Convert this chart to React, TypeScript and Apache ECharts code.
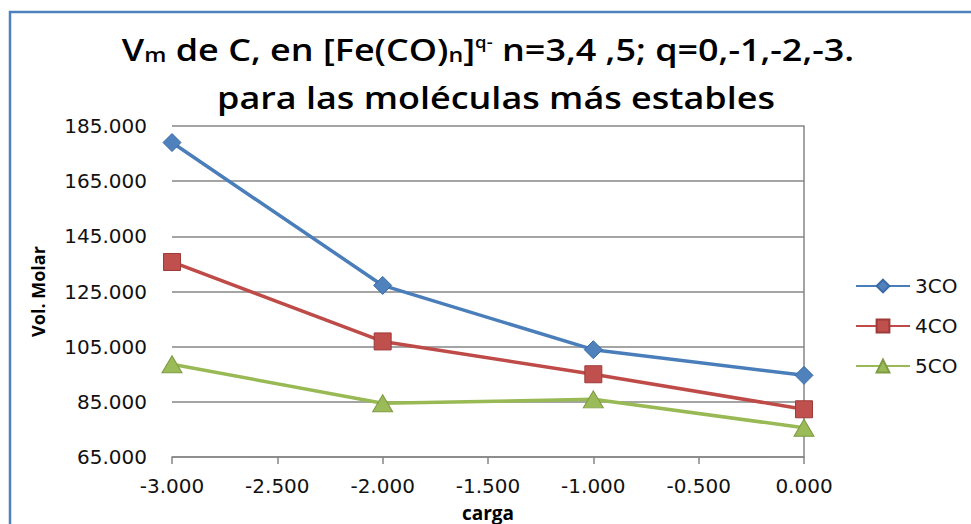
import React, { useEffect, useRef } from "react";
import * as echarts from "echarts";

const charges = [-3, -2, -1, 0];
const vm3CO = [179.0, 127.2, 103.9, 94.6];
const vm4CO = [135.7, 106.9, 95.0, 82.3];
const vm5CO = [98.6, 84.5, 85.9, 75.6];
const seriesNames = ["3CO", "4CO", "5CO"];
const yTicks = [65, 85, 105, 125, 145, 165, 185];

const pairs = (ys: number[]) => charges.map((x, i) => [x, ys[i]]);

export default function App() {
  const ref = useRef<HTMLDivElement>(null);

  useEffect(() => {
    if (!ref.current) return;
    const chart = echarts.init(ref.current, null, { renderer: "svg" });
    const labelFont = "DejaVu Sans";
    const titleFont = "Open Sans";
    const titleRich = {
      b: {
        fontFamily: titleFont,
        fontWeight: 600,
        fontSize: 31,
        color: "#000",
        lineHeight: 48,
      },
      sub: {
        fontFamily: titleFont,
        fontWeight: 600,
        fontSize: 20,
        color: "#000",
        verticalAlign: "bottom",
        padding: [0, 0, 9, 0],
      },
      sup: {
        fontFamily: titleFont,
        fontWeight: 600,
        fontSize: 16,
        color: "#000",
        verticalAlign: "top",
        padding: [9, 0, 0, 0],
      },
    };
    chart.setOption({
      animation: false,
      backgroundColor: "#ffffff",
      graphic: [
        {
          type: "rect",
          shape: { x: 10, y: 12, width: 1000, height: 600 },
          style: { fill: "none", stroke: "#4F81BD", lineWidth: 2.5 },
          silent: true,
        },
        {
          type: "text",
          x: 488,
          y: 25,
          scaleX: 1.16,
          silent: true,
          style: {
            text:
              "{b|V}{sub|m}{b| de C, en [Fe(CO)}{sub|n}{b|]}{sup|q-}{b| n=3,4 ,5; q=0,-1,-2,-3.}",
            align: "center",
            verticalAlign: "top",
            rich: titleRich,
          },
        },
        {
          type: "text",
          x: 496,
          y: 73,
          scaleX: 1.16,
          silent: true,
          style: {
            text: "{b|para las moléculas más estables}",
            align: "center",
            verticalAlign: "top",
            rich: titleRich,
          },
        },
      ],
      legend: {
        orient: "vertical",
        left: 850,
        top: 271,
        itemWidth: 54,
        itemHeight: 16,
        itemGap: 20,
        data: seriesNames,
        textStyle: { fontFamily: labelFont, fontSize: 20, color: "#111" },
      },
      grid: {
        left: 172,
        right: 167,
        top: 126,
        bottom: 67,
        outerBoundsMode: "none",
      },
      xAxis: {
        type: "value",
        min: -3,
        max: 0,
        interval: 0.5,
        name: "carga",
        nameLocation: "middle",
        nameGap: 46,
        nameTextStyle: {
          fontFamily: titleFont,
          fontWeight: "bold",
          fontSize: 19,
          color: "#000",
        },
        axisLine: { show: true, lineStyle: { color: "#868686", width: 1.5 } },
        axisTick: {
          show: true,
          inside: false,
          length: 7,
          lineStyle: { color: "#868686", width: 1.5 },
        },
        splitLine: { show: false },
        axisLabel: {
          fontFamily: labelFont,
          fontSize: 20,
          color: "#111",
          margin: 19,
          formatter: (v: number) => v.toFixed(3),
        },
      },
      yAxis: [
        {
          type: "value",
          min: 65,
          max: 185,
          name: "Vol. Molar",
          nameLocation: "middle",
          nameRotate: 90,
          nameGap: 125,
          nameTextStyle: {
            fontFamily: titleFont,
            fontWeight: "bold",
            fontSize: 18,
            color: "#000",
          },
          axisLine: { show: false },
          axisTick: { show: false, customValues: yTicks },
          splitLine: { show: true, lineStyle: { color: "#868686", width: 1.5 } },
          axisLabel: {
            customValues: yTicks,
            fontFamily: labelFont,
            fontSize: 20,
            color: "#111",
            margin: 25,
            formatter: (v: number) => v.toFixed(3),
          },
        },
        {
          type: "value",
          position: "right",
          min: 65,
          max: 185,
          axisLine: { show: true, lineStyle: { color: "#868686", width: 1.5 } },
          axisTick: { show: false },
          axisLabel: { show: false },
          splitLine: { show: false },
        },
      ],
      series: [
        {
          name: "3CO",
          type: "line",
          data: pairs(vm3CO),
          symbol: "diamond",
          symbolSize: 18,
          lineStyle: { color: "#4A7EBB", width: 3.5 },
          itemStyle: { color: "#4F81BD", borderColor: "#3A6AA6", borderWidth: 1 },
        },
        {
          name: "4CO",
          type: "line",
          data: pairs(vm4CO),
          symbol: "rect",
          symbolSize: 17,
          lineStyle: { color: "#BE4B48", width: 3.5 },
          itemStyle: { color: "#C0504D", borderColor: "#9E3A38", borderWidth: 1 },
        },
        {
          name: "5CO",
          type: "line",
          data: pairs(vm5CO),
          symbol: "triangle",
          symbolSize: [20, 17],
          lineStyle: { color: "#98B954", width: 3.5 },
          itemStyle: { color: "#9BBB59", borderColor: "#7E9A42", borderWidth: 1 },
        },
      ],
    });
    return () => chart.dispose();
  }, []);

  return (
    <div
      ref={ref}
      style={{ position: "fixed", left: 0, top: 0, width: 971, height: 524 }}
    />
  );
}
